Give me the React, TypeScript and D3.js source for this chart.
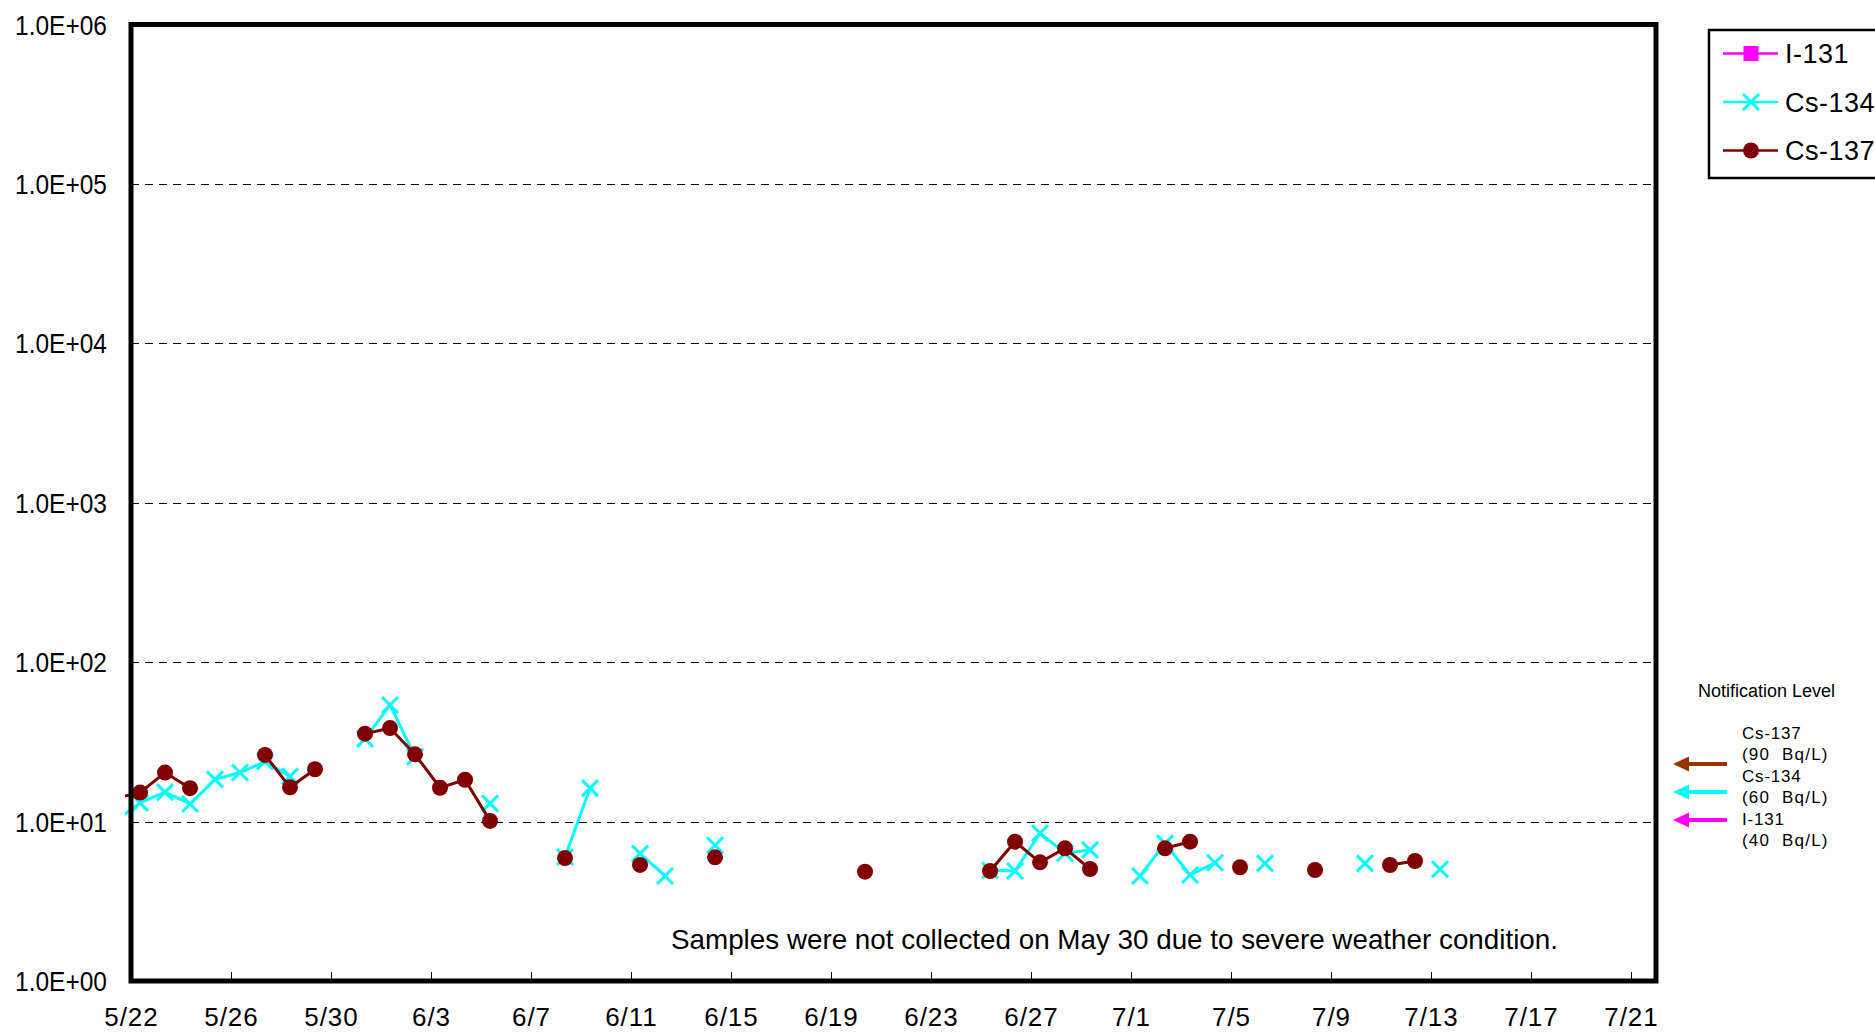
import React from 'react'
import * as d3 from 'd3'

// sampling dates (2011), sampled in the morning
const YEAR = 2011
const SAMPLE_TIME = '08:40'
const dates = [
  '5/21', '5/22', '5/23', '5/24', '5/25', '5/26', '5/27', '5/28', '5/29', '5/30',
  '5/31', '6/1', '6/2', '6/3', '6/4', '6/5', '6/6', '6/7', '6/8', '6/9',
  '6/10', '6/11', '6/12', '6/13', '6/14', '6/15', '6/16', '6/17', '6/18', '6/19',
  '6/20', '6/21', '6/22', '6/23', '6/24', '6/25', '6/26', '6/27', '6/28', '6/29',
  '6/30', '7/1', '7/2', '7/3', '7/4', '7/5', '7/6', '7/7', '7/8', '7/9',
  '7/10', '7/11', '7/12', '7/13',
]
// Bq/L, null = not detected / not sampled
const cs137 = [
  14, 15.2, 20.3, 16.2, null, null, 26.2, 16.4, 21.3, null,
  35.6, 38.6, 26.4, 16.3, 18.3, 10.1, null, null, 5.9, null,
  null, 5.35, null, null, 5.97, null, null, null, null, null,
  4.85, null, null, null, null, 4.9, 7.48, 5.55, 6.8, 5.04,
  null, null, 6.8, 7.48, null, 5.17, null, null, 4.97, null,
  null, 5.34, 5.66, null,
]
const cs134 = [
  10, 13.1, 15.3, 12.9, 18.4, 20.3, 23.8, 19.2, null, null,
  33, 53.9, 25.5, null, null, 13.0, null, null, 6.0, 16.2,
  null, 6.3, 4.56, null, 7.1, null, null, null, null, null,
  null, null, null, null, null, 4.95, 4.9, 8.45, 6.33, 6.64,
  null, 4.56, 7.3, 4.62, 5.52, null, 5.47, null, null, null,
  5.47, null, null, 5.02,
]
const i131: (number | null)[] = Array(dates.length).fill(null)

const xDomain = ['5/22', '7/22']
const xTickLabels = ['5/22', '5/26', '5/30', '6/3', '6/7', '6/11', '6/15', '6/19', '6/23', '6/27', '7/1', '7/5', '7/9', '7/13', '7/17', '7/21']
const yTicks = [1, 10, 100, 1000, 10000, 100000, 1000000]
const yTickLabels = ['1.0E+00', '1.0E+01', '1.0E+02', '1.0E+03', '1.0E+04', '1.0E+05', '1.0E+06']

const seriesNames = ['I-131', 'Cs-134', 'Cs-137']
const seriesColors = ['#FF00FF', '#00FFFF', '#800000']
const levelNames = ['Cs-137', 'Cs-134', 'I-131']
const levelValues = ['(90  Bq/L)', '(60  Bq/L)', '(40  Bq/L)']
const levelColors = ['#993300', '#00FFFF', '#FF00FF']
const note = 'Samples were not collected on May 30 due to severe weather condition.'

const W = 1875
const H = 1034
const plot = { left: 131, right: 1656, top: 24.5, bottom: 981 }
const FONT = "'Liberation Sans', Arial, sans-serif"

const parseDay = d3.timeParse('%Y/%m/%d')
const parseSample = d3.timeParse('%Y/%m/%d %H:%M')

export default function App() {
  const x = d3
    .scaleTime()
    .domain(xDomain.map((d) => parseDay(`${YEAR}/${d}`) as Date))
    .range([plot.left, plot.right])
  const y = d3.scaleLog().domain([1, 1e6]).range([plot.bottom, plot.top])

  const sampleDates = dates.map((d) => parseSample(`${YEAR}/${d} ${SAMPLE_TIME}`) as Date)
  const allSeries = [i131, cs134, cs137]

  const line = d3
    .line<[Date, number | null]>()
    .defined((d) => d[1] != null)
    .x((d) => x(d[0]))
    .y((d) => y(d[1] as number))

  const marker = (i: number, cx: number, cy: number, key: string) => {
    const c = seriesColors[i]
    if (i === 0) return <rect key={key} x={cx - 7.5} y={cy - 7.5} width={15} height={15} fill={c} />
    if (i === 1)
      return (
        <path
          key={key}
          d={`M${cx - 8},${cy - 8}L${cx + 8},${cy + 8}M${cx - 8},${cy + 8}L${cx + 8},${cy - 8}`}
          stroke={c}
          strokeWidth={3}
          fill="none"
        />
      )
    return <circle key={key} cx={cx} cy={cy} r={8} fill={c} />
  }

  const arrowY = [764, 792, 820]

  return (
    <svg
      width={W}
      height={H}
      style={{ position: 'absolute', left: 0, top: 0, display: 'block', background: '#fff' }}
      fontFamily={FONT}
    >
      <defs>
        <clipPath id="plotClip">
          <rect x={plot.left - 6} y={plot.top} width={plot.right - plot.left + 6} height={plot.bottom - plot.top} />
        </clipPath>
      </defs>

      {/* gridlines */}
      {yTicks.slice(1, -1).map((t) => {
        const gy = Math.round(y(t)) + 0.5
        return <line key={t} x1={plot.left} x2={plot.right} y1={gy} y2={gy} stroke="#000" strokeWidth={1} strokeDasharray="8 6" />
      })}

      {/* x ticks */}
      {xTickLabels.map((t) => {
        const px = Math.round(x(parseDay(`${YEAR}/${t}`) as Date)) + 0.5
        return (
          <g key={t}>
            <line x1={px} x2={px} y1={plot.bottom} y2={plot.bottom - 9} stroke="#000" strokeWidth={1} />
            <text x={px} y={1026} textAnchor="middle" fontSize={26} letterSpacing={1}>
              {t}
            </text>
          </g>
        )
      })}

      {/* y labels */}
      {yTicks.map((t, i) => (
        <text key={t} x={107} y={y(t) + 10} textAnchor="end" fontSize={28} textLength={92} lengthAdjust="spacingAndGlyphs">
          {yTickLabels[i]}
        </text>
      ))}

      {/* series */}
      <g clipPath="url(#plotClip)">
        {allSeries.map((vals, i) => {
          const pts = sampleDates.map((d, j) => [d, vals[j]] as [Date, number | null])
          return (
            <g key={seriesNames[i]}>
              <path d={line(pts) || ''} fill="none" stroke={seriesColors[i]} strokeWidth={3} />
              {pts
                .filter((p) => p[1] != null)
                .map((p, j) => marker(i, x(p[0]), y(p[1] as number), `${i}-${j}`))}
            </g>
          )
        })}
      </g>

      {/* plot frame */}
      <rect x={plot.left} y={plot.top} width={plot.right - plot.left} height={plot.bottom - plot.top} fill="none" stroke="#000" strokeWidth={5} />

      <text x={671} y={949} fontSize={28} textLength={887} lengthAdjust="spacingAndGlyphs">
        {note}
      </text>

      {/* legend */}
      <rect x={1709} y={30} width={200} height={148} fill="#fff" stroke="#000" strokeWidth={2.5} />
      {seriesNames.map((name, i) => {
        const ly = 53.5 + i * 48.5
        return (
          <g key={name}>
            <line x1={1723} x2={1778} y1={ly} y2={ly} stroke={seriesColors[i]} strokeWidth={2.5} />
            {marker(i, 1751, ly, `leg-${i}`)}
            <text x={1785} y={ly + 9.5} fontSize={27} letterSpacing={0.5}>
              {name}
            </text>
          </g>
        )
      })}

      {/* notification levels */}
      <text x={1698} y={697} fontSize={18}>
        Notification Level
      </text>
      {levelNames.map((name, i) => {
        const ty = 739 + i * 43
        const ay = arrowY[i]
        return (
          <g key={name}>
            <text x={1742} y={ty} fontSize={17} letterSpacing={0.8}>
              {name}
            </text>
            <text x={1742} y={ty + 21} fontSize={17} letterSpacing={1.2} style={{ whiteSpace: 'pre' }}>
              {levelValues[i]}
            </text>
            <line x1={1686} x2={1727} y1={ay} y2={ay} stroke={levelColors[i]} strokeWidth={4} />
            <path d={`M${1673},${ay}L${1689},${ay - 7.5}L${1689},${ay + 7.5}Z`} fill={levelColors[i]} />
          </g>
        )
      })}
    </svg>
  )
}
